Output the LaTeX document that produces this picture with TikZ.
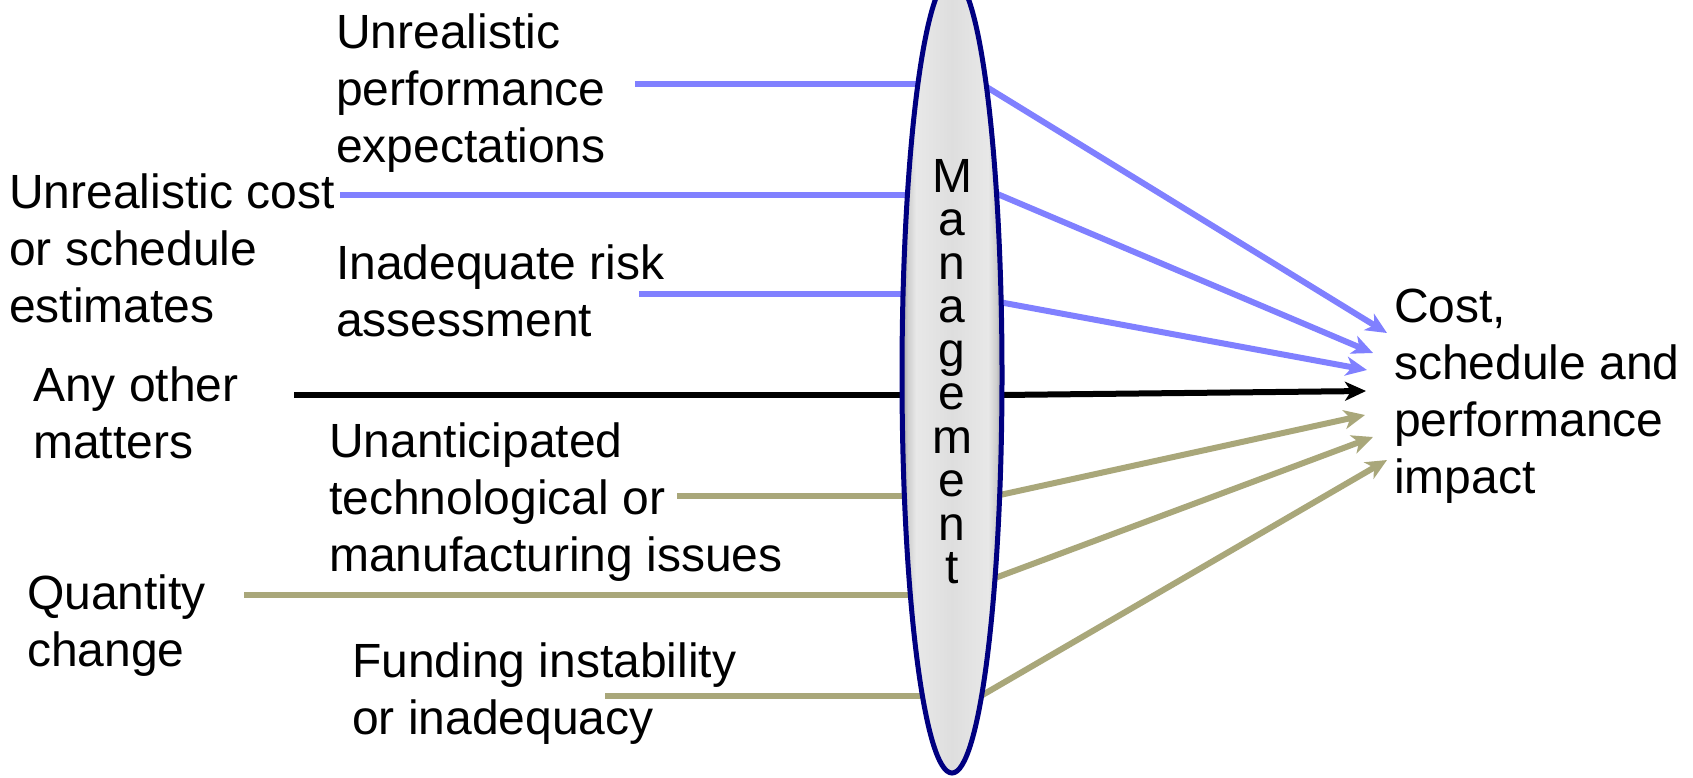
\documentclass[tikz,border=0pt]{standalone}
\usepackage{fontspec}
\setmainfont{Liberation Sans}
\usetikzlibrary{arrows.meta,shapes.geometric,backgrounds}
\definecolor{bl}{HTML}{8080FF}
\definecolor{ol}{HTML}{A9A77A}
\definecolor{nv}{HTML}{000080}
\definecolor{sgA}{HTML}{A0A0A0}
\definecolor{sgB}{HTML}{CFCFCF}
\definecolor{sgC}{HTML}{E8E8E8}
\definecolor{sgD}{HTML}{DEDEDE}
\pgfdeclarehorizontalshading{mgmtshade}{100bp}{color(0bp)=(sgA); color(25bp)=(sgA); color(28bp)=(sgB); color(32bp)=(sgC); color(50bp)=(sgD); color(68bp)=(sgC); color(72bp)=(sgB); color(75bp)=(sgA); color(100bp)=(sgA)}
\begin{document}
\begin{tikzpicture}[x=1pt,y=-1pt,
  lbl/.style={anchor=north west, inner sep=0pt, align=left,
    font=\fontsize{48}{57}\selectfont, execute at begin node={\rule{0pt}{38pt}}},
  mgtxt/.style={anchor=north, inner sep=0pt, align=center,
    font=\fontsize{48}{43.5}\selectfont, execute at begin node={\rule{0pt}{36pt}}},
  lens/.style={ellipse, draw=nv, line width=5pt, shading=mgmtshade,
    minimum width=100pt, minimum height=796pt, inner sep=0pt},
  blueline/.style={draw=bl, line width=6pt},
  oliveline/.style={draw=ol, line width=6pt},
  blackline/.style={draw=black, line width=6pt},
  arr/.style={-{Stealth[length=21pt,width=19pt,inset=6pt]}}
]
\useasboundingbox (0,0) rectangle (1693,777);

% labels
\node[lbl] (tA) at (336,14)   {Unrealistic\\performance\\expectations};
\node[lbl] (tB) at (9,174)    {Unrealistic cost\\or schedule\\estimates};
\node[lbl] (tC) at (336,245)  {Inadequate risk\\assessment};
\node[lbl] (tD) at (33,367)   {Any other\\matters};
\node[lbl] (tE) at (329,423)  {Unanticipated\\technological or\\manufacturing issues};
\node[lbl] (tF) at (27,575)   {Quantity\\change};
\node[lbl] (tG) at (352,643)  {Funding instability\\or inadequacy};
\node[lbl] (tH) at (1394,289) {Cost,\\schedule and\\performance\\impact};

% management lens
\node[lens] (mgmt) at (952,375) {};
\node[mgtxt] (mg) at (952,159) {M\\a\\n\\a\\g\\e\\m\\e\\n\\t};

% connector end points
\coordinate (a1) at (635,84);
\coordinate (a2) at (340,195);
\coordinate (a3) at (639,294);
\coordinate (a4) at (294,395);
\coordinate (a5) at (677,496);
\coordinate (a6) at (244,595);
\coordinate (a7) at (605,696);

\coordinate (r1) at (976.5,80.8);
\coordinate (r2) at (985.8,189.1);
\coordinate (r3) at (989.2,300.2);
\coordinate (r4) at (992,395.1);
\coordinate (r5) at (990.2,497.1);
\coordinate (r6) at (985.6,581.5);
\coordinate (r7) at (970.4,702);

\coordinate (h1) at (1387,333);
\coordinate (h2) at (1373,353);
\coordinate (h3) at (1367,370);
\coordinate (h4) at (1366,391);
\coordinate (h5) at (1365,415);
\coordinate (h6) at (1373,437);
\coordinate (h7) at (1387,460);

\begin{scope}[on background layer]
  \fill[white] (0,0) rectangle (1693,777);
  \draw[blueline]  (a1) -- (a1 -| mgmt.center);
  \draw[blueline]  (a2) -- (a2 -| mgmt.center);
  \draw[blueline]  (a3) -- (a3 -| mgmt.center);
  \draw[blackline] (a4) -- (a4 -| mgmt.center);
  \draw[oliveline] (a5) -- (a5 -| mgmt.center);
  \draw[oliveline] (a6) -- (a6 -| mgmt.center);
  \draw[oliveline] (a7) -- (a7 -| mgmt.center);

  \draw[blueline,arr]  (r1) -- (h1);
  \draw[blueline,arr]  (r2) -- (h2);
  \draw[blueline,arr]  (r3) -- (h3);
  \draw[blackline,arr] (r4) -- (h4);
  \draw[oliveline,arr] (r5) -- (h5);
  \draw[oliveline,arr] (r6) -- (h6);
  \draw[oliveline,arr] (r7) -- (h7);
\end{scope}
\end{tikzpicture}
\end{document}
